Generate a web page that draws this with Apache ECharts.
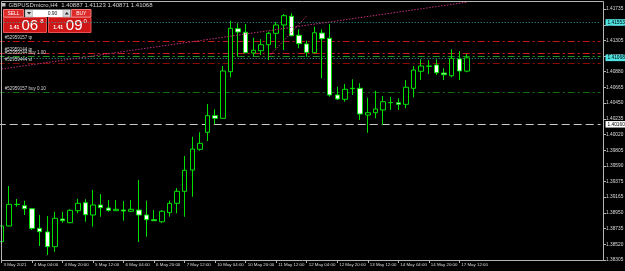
<!DOCTYPE html>
<html>
<head>
<meta charset="utf-8">
<script src="https://cdn.jsdelivr.net/npm/echarts@6/dist/echarts.min.js"></script>
<style>
  html, body { margin: 0; padding: 0; background: #000; }
  #chart { width: 625px; height: 271px; }
</style>
</head>
<body>
<div id="chart"></div>
<script>
// GBPUSDmicro H4 bars
const times = [
  '3 May 2021', '3 May 16:00', '3 May 20:00', '4 May 00:00', '4 May 04:00', '4 May 08:00',
  '4 May 12:00', '4 May 16:00', '4 May 20:00', '5 May 00:00', '5 May 04:00', '5 May 08:00',
  '5 May 12:00', '5 May 16:00', '5 May 20:00', '6 May 00:00', '6 May 04:00', '6 May 08:00',
  '6 May 12:00', '6 May 16:00', '6 May 20:00', '7 May 00:00', '7 May 04:00', '7 May 08:00',
  '7 May 12:00', '7 May 16:00', '7 May 20:00', '10 May 00:00', '10 May 04:00', '10 May 08:00',
  '10 May 12:00', '10 May 16:00', '10 May 20:00', '11 May 00:00', '11 May 04:00', '11 May 08:00',
  '11 May 12:00', '11 May 16:00', '11 May 20:00', '12 May 00:00', '12 May 04:00', '12 May 08:00',
  '12 May 12:00', '12 May 16:00', '12 May 20:00', '13 May 00:00', '13 May 04:00', '13 May 08:00',
  '13 May 12:00', '13 May 16:00', '13 May 20:00', '14 May 00:00', '14 May 04:00', '14 May 08:00',
  '14 May 12:00', '14 May 16:00', '14 May 20:00', '17 May 00:00', '17 May 04:00', '17 May 08:00',
  '17 May 12:00', '17 May 16:00'
];
const opens = [
  1.38555, 1.38770, 1.39063, 1.39047, 1.39006, 1.38738, 1.38688, 1.38487, 1.38865, 1.38815,
  1.38979, 1.39088, 1.38920, 1.39057, 1.39016, 1.38979, 1.38988, 1.38971, 1.38988, 1.38920,
  1.38856, 1.38828, 1.38952, 1.39080, 1.39244, 1.39535, 1.39818, 1.40051, 1.40278, 1.40242,
  1.40879, 1.41467, 1.41418, 1.41135, 1.41166, 1.41248, 1.41404, 1.41518, 1.41637, 1.41377,
  1.41258, 1.41139, 1.41408, 1.41336, 1.40561, 1.40502, 1.40647, 1.40652, 1.40287, 1.40319,
  1.40356, 1.40455, 1.40455, 1.40433, 1.40652, 1.40885, 1.40953, 1.40971, 1.40861, 1.40824,
  1.41053, 1.40887
];
const closes = [
  1.38770, 1.39066, 1.39066, 1.39006, 1.38738, 1.38692, 1.38487, 1.38875, 1.38842, 1.38984,
  1.39080, 1.38924, 1.39057, 1.39020, 1.38984, 1.38998, 1.38975, 1.38998, 1.38920, 1.38856,
  1.38842, 1.38971, 1.39080, 1.39244, 1.39531, 1.39822, 1.39900, 1.40278, 1.40242, 1.40889,
  1.41472, 1.41422, 1.41139, 1.41172, 1.41248, 1.41404, 1.41518, 1.41645, 1.41371, 1.41262,
  1.41144, 1.41412, 1.41330, 1.40561, 1.40506, 1.40639, 1.40652, 1.40301, 1.40319, 1.40369,
  1.40469, 1.40458, 1.40433, 1.40666, 1.40902, 1.40957, 1.40957, 1.40865, 1.40838, 1.41062,
  1.40889, 1.41068
];
const lows = [
  1.38442, 1.38765, 1.39034, 1.38920, 1.38715, 1.38496, 1.38373, 1.38418, 1.38815, 1.38807,
  1.38943, 1.38828, 1.38760, 1.38897, 1.38965, 1.38975, 1.38842, 1.38961, 1.38551, 1.38623,
  1.38838, 1.38811, 1.38897, 1.38943, 1.38897, 1.39170, 1.39799, 1.39932, 1.40160, 1.40237,
  1.40803, 1.41084, 1.41131, 1.41084, 1.41107, 1.41039, 1.41199, 1.41176, 1.41365, 1.41199,
  1.41084, 1.41131, 1.40789, 1.40537, 1.40492, 1.40469, 1.40561, 1.40219, 1.40045, 1.40242,
  1.40150, 1.40356, 1.40356, 1.40379, 1.40529, 1.40766, 1.40848, 1.40834, 1.40766, 1.40803,
  1.40766, 1.40871
];
const highs = [
  1.38934, 1.39317, 1.39139, 1.39116, 1.39016, 1.38920, 1.38906, 1.38965, 1.38965, 1.38998,
  1.39143, 1.39135, 1.39262, 1.39207, 1.39125, 1.39125, 1.39111, 1.39125, 1.39399, 1.39116,
  1.38988, 1.38988, 1.39116, 1.39289, 1.39727, 1.39990, 1.40051, 1.40438, 1.40365, 1.40957,
  1.41576, 1.41541, 1.41531, 1.41344, 1.41322, 1.41426, 1.41559, 1.41668, 1.41678, 1.41459,
  1.41303, 1.41494, 1.41459, 1.41531, 1.40674, 1.40711, 1.40775, 1.40721, 1.40524, 1.40619,
  1.40547, 1.40537, 1.40515, 1.40766, 1.40957, 1.41049, 1.41039, 1.41049, 1.40926, 1.41185,
  1.41162, 1.41123
];

// price scale
const yTicks = [
  1.38305, 1.38520, 1.38735, 1.38950, 1.39165, 1.39375, 1.39590, 1.39805, 1.40020,
  1.40235, 1.40450, 1.40665, 1.40880, 1.41090, 1.41305, 1.41520, 1.41735
];
const yMin = 1.38305;
const yMax = 1.41832;

// order lines
const orderPrices = [1.41299, 1.41131, 1.41094, 1.40989, 1.40597];
const orderNames = ['#52959157 tp', '#52959144 tp', '#52959144 buy 1.00', '#52959444 sl', '#52959157 buy 0.10'];
const orderColors = ['#c01818', '#d41c1c', '#1f9a1f', '#8c0c0c', '#106e10'];

// other price lines with their axis labels
const alertPrice = 1.41553;
const askPrice = 1.41131;
const bidPrice = 1.41068;
const hlinePrice = 1.40160;

// trend line and trade history line (bar index, price)
const trendStart = [0, 1.40915];
const trendEnd = [61, 1.41829];
const tradeStart = [35, 1.41080];
const tradeEnd = [40, 1.41641];

const symbolName = 'GBPUSDmicro,H4';
const lotSize = '0.90';
const bidText = ['1.41', '06', '8'];
const askText = ['1.41', '09', '0'];

const FONT = '"Liberation Sans", Arial, sans-serif';
const SLOTS = 79;
const cats = times.concat(Array.from({ length: SLOTS - times.length }, (_, k) => 'pad' + k));
const candles = times.map((t, i) => [opens[i], closes[i], lows[i], highs[i]]);
const showTick = (idx) => idx % 4 === 0 && idx < times.length;

const dashDot = [7, 3, 2, 3];

const levelLines = orderPrices.map((p, i) => ({
  yAxis: p,
  lineStyle: { color: orderColors[i], type: dashDot, width: 1 },
  label: {
    show: true, position: 'insideStartTop', formatter: orderNames[i],
    color: '#d8d8d8', fontSize: 4.5, fontFamily: FONT, distance: [7, 1]
  }
}));
const endBox = (text, bg, fg) => ({
  show: true, position: 'end', formatter: text, backgroundColor: bg, color: fg,
  fontSize: 4.8, fontFamily: FONT, padding: [1, 2, 0.5, 2], distance: 5
});

const allLevels = [
  { yAxis: alertPrice, lineStyle: { color: '#2f9c9c', type: [1, 2], width: 1 }, label: endBox(alertPrice.toFixed(5), '#4fe3e3', '#000') },
  { yAxis: hlinePrice, lineStyle: { color: '#c8c8c8', type: [8, 4], width: 1 }, label: endBox(hlinePrice.toFixed(5), '#ffffff', '#000') },
  ...levelLines,
  { yAxis: askPrice, lineStyle: { opacity: 0 }, label: endBox(askPrice.toFixed(5), '#ff1010', '#fff') },
  { yAxis: bidPrice, lineStyle: { color: '#3aa8a8', type: [1, 2], width: 1 }, label: endBox(bidPrice.toFixed(5), '#4fe3e3', '#000') }
];

const chart = echarts.init(document.getElementById('chart'));

chart.setOption({
  backgroundColor: '#000',
  animation: false,
  grid: { left: -2.3, right: 24.5, top: 2, bottom: 11, containLabel: false, outerBoundsMode: 'none' },
  xAxis: {
    type: 'category',
    data: cats,
    boundaryGap: true,
    axisLine: { show: false },
    axisTick: { show: true, interval: showTick, alignWithLabel: true, length: 3, lineStyle: { color: '#b4b4b4' } },
    axisLabel: {
      interval: showTick, align: 'left', margin: 3, color: '#dcdcdc',
      fontSize: 4.4, fontFamily: FONT, padding: [0, 0, 0, 2]
    },
    splitLine: { show: false }
  },
  yAxis: {
    type: 'value',
    position: 'right',
    offset: 2.5,
    min: yMin,
    max: yMax,
    scale: true,
    axisLine: { show: false },
    axisTick: { show: true, customValues: yTicks, length: 3, lineStyle: { color: '#b4b4b4' } },
    axisLabel: {
      customValues: yTicks, formatter: (v) => v.toFixed(5), margin: 3,
      color: '#dcdcdc', fontSize: 4.8, fontFamily: FONT
    },
    splitLine: { show: false }
  },
  series: [
    {
      type: 'candlestick',
      data: candles,
      barWidth: 5,
      z: 3,
      itemStyle: {
        color: '#000000',
        color0: '#ffffff',
        borderColor: '#00e000',
        borderColor0: '#00e000',
        borderWidth: 1
      },
      markLine: {
        z: 1,
        silent: true,
        precision: 5,
        symbol: ['none', 'none'],
        animation: false,
        label: { show: false },
        data: allLevels
      }
    },
    {
      type: 'line',
      data: [],
      z: 6,
      markLine: {
        z: 6,
        silent: true,
        precision: 5,
        symbol: ['none', 'none'],
        animation: false,
        label: { show: false },
        lineStyle: { color: '#c0307a', type: [1.5, 1.5], width: 1 },
        data: [
          [{ coord: [times[trendStart[0]], trendStart[1]] }, { coord: [times[trendEnd[0]], trendEnd[1]] }],
          [{ coord: [times[tradeStart[0]], tradeStart[1]] }, { coord: [times[tradeEnd[0]], tradeEnd[1]] }]
        ]
      }
    }
  ],
  graphic: [
    {
      type: 'rect', z: 10, silent: true,
      shape: { x: 1.5, y: 1.5, width: 602, height: 259 },
      style: { fill: 'none', stroke: '#b4b4b4', lineWidth: 1 }
    },
    {
      type: 'rect', z: 10, silent: true,
      shape: { x: 2, y: 3, width: 3.5, height: 3.5 },
      style: { fill: '#bfbfbf' }
    },
    {
      type: 'text', z: 10, silent: true,
      style: {
        text: symbolName + '  ' + [opens[61], highs[61], lows[61], closes[61]].map(v => v.toFixed(5)).join(' '),
        x: 8.5, y: 5, fill: '#d4d4d4', font: '6px ' + FONT,
        align: 'left', verticalAlign: 'middle', textAlign: 'left', textVerticalAlign: 'middle'
      }
    },
    {
      type: 'group', z: 100, silent: true,
      children: [
        { type: 'rect', shape: { x: 3.5, y: 17.5, width: 43, height: 15 }, style: { fill: '#cf1717', stroke: '#e65252', lineWidth: 1 } },
        { type: 'rect', shape: { x: 48.5, y: 17.5, width: 42.5, height: 15 }, style: { fill: '#cf1717', stroke: '#e65252', lineWidth: 1 } },
        { type: 'rect', shape: { x: 3.5, y: 9.5, width: 20, height: 7.5 }, style: { fill: '#db2b2b', stroke: '#f27a7a', lineWidth: 1 } },
        { type: 'rect', shape: { x: 71.5, y: 9.5, width: 19.5, height: 7.5 }, style: { fill: '#db2b2b', stroke: '#f27a7a', lineWidth: 1 } },
        { type: 'rect', shape: { x: 25, y: 9.5, width: 8, height: 7.5 }, style: { fill: '#d6d6d6', stroke: '#999', lineWidth: 0.5 } },
        { type: 'rect', shape: { x: 33, y: 9.5, width: 30, height: 7.5 }, style: { fill: '#ffffff' } },
        { type: 'rect', shape: { x: 63, y: 9.5, width: 7.5, height: 7.5 }, style: { fill: '#d6d6d6', stroke: '#999', lineWidth: 0.5 } },
        { type: 'polygon', shape: { points: [[27, 12], [31, 12], [29, 14.5]] }, style: { fill: '#222' } },
        { type: 'polygon', shape: { points: [[64.8, 14.5], [68.8, 14.5], [66.8, 12]] }, style: { fill: '#222' } },
        { type: 'text', style: { text: 'SELL', x: 13.5, y: 13.4, fill: '#ffffff', font: '5px ' + FONT, align: 'center', verticalAlign: 'middle', textAlign: 'center', textVerticalAlign: 'middle' } },
        { type: 'text', style: { text: 'BUY', x: 81.3, y: 13.4, fill: '#ffffff', font: '5px ' + FONT, align: 'center', verticalAlign: 'middle', textAlign: 'center', textVerticalAlign: 'middle' } },
        { type: 'text', style: { text: lotSize, x: 52.5, y: 13.4, fill: '#111', font: '5px ' + FONT, align: 'center', verticalAlign: 'middle', textAlign: 'center', textVerticalAlign: 'middle' } },
        { type: 'text', style: { text: bidText[0], x: 9.5, y: 28, fill: '#ffffff', font: 'bold 5px ' + FONT, align: 'left', verticalAlign: 'middle', textAlign: 'left', textVerticalAlign: 'middle' } },
        { type: 'text', style: { text: bidText[1], x: 21.5, y: 25.6, fill: '#ffffff', font: '15px ' + FONT, align: 'left', verticalAlign: 'middle', textAlign: 'left', textVerticalAlign: 'middle' } },
        { type: 'text', style: { text: bidText[2], x: 40.3, y: 21.5, fill: '#ffffff', font: '6px ' + FONT, align: 'left', verticalAlign: 'middle', textAlign: 'left', textVerticalAlign: 'middle' } },
        { type: 'text', style: { text: askText[0], x: 53.3, y: 28, fill: '#ffffff', font: 'bold 5px ' + FONT, align: 'left', verticalAlign: 'middle', textAlign: 'left', textVerticalAlign: 'middle' } },
        { type: 'text', style: { text: askText[1], x: 65.8, y: 25.6, fill: '#ffffff', font: '15px ' + FONT, align: 'left', verticalAlign: 'middle', textAlign: 'left', textVerticalAlign: 'middle' } },
        { type: 'text', style: { text: askText[2], x: 83.6, y: 21.5, fill: '#ffffff', font: '6px ' + FONT, align: 'left', verticalAlign: 'middle', textAlign: 'left', textVerticalAlign: 'middle' } }
      ]
    }
  ]
});
</script>
</body>
</html>
